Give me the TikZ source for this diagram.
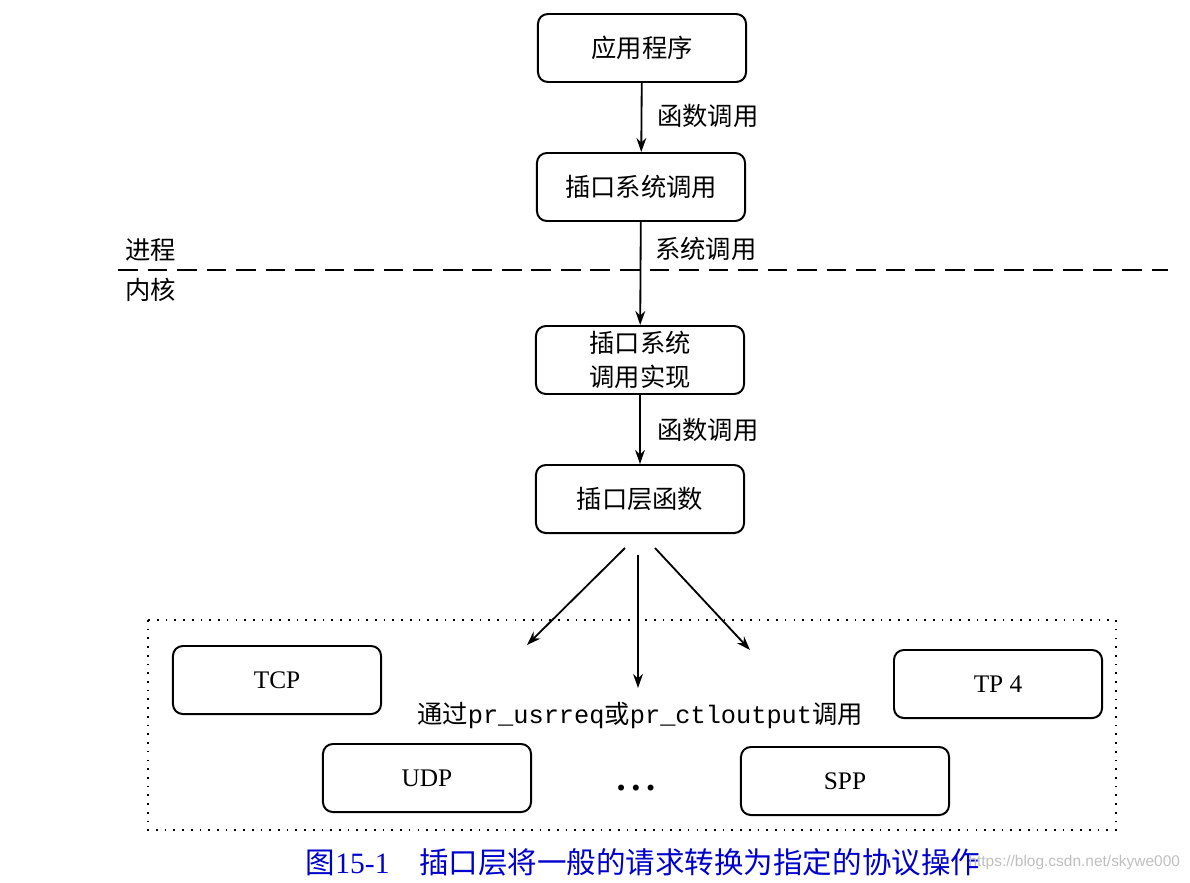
\documentclass[tikz,border=0pt]{standalone}
\usepackage{fontspec}
\setmainfont{Liberation Serif}
\setmonofont{Liberation Mono}
\newfontfamily\cjk{Noto Sans CJK SC}
\newfontfamily\wmfont{Liberation Sans}
\usetikzlibrary{arrows.meta}

\begin{document}
\begin{tikzpicture}[x=0.025cm,y=-0.025cm]
            \tikzstyle{box}=[draw,line width=1.4pt,rounded corners=7pt,minimum width=5.2cm,minimum height=1.7cm,font=\fontsize{18}{24}\selectfont\cjk,align=center];
            \tikzstyle{lbl}=[anchor=west,inner sep=0pt,font=\fontsize{18}{22}\selectfont\cjk];
            \tikzstyle{arr}=[line width=1.3pt,-{Stealth[length=10pt,width=7pt]}];
            \useasboundingbox (0,0) rectangle (1190,882);
            % top of the chain
            \node[box] (app) at (642,48) {应用程序};
            \node[box] (sockcall) at (641,187) {插口系统调用};
            \node[box] (sockimpl) at (640,360) {插口系统\\调用实现};
            \node[box] (socklayer) at (640,499) {插口层函数};
            \draw[arr] (app) -- (sockcall);
            \draw[arr] (sockcall) -- (sockimpl);
            \draw[arr] (sockimpl) -- (socklayer);
            \node[lbl] (call1) at (657,116) {函数调用};
            \node[lbl] (call2) at (655,249) {系统调用};
            \node[lbl] (call3) at (657,430) {函数调用};
            % process / kernel
            \draw[line width=1.2pt,dash pattern=on 14pt off 7pt] (118,270) -- (1168,270);
            \node[lbl] (proc) at (125,250) {进程};
            \node[lbl] (kern) at (125,290) {内核};
            % protocols
            \draw[line width=1.2pt,dash pattern=on 1.2pt off 5pt] (148,620) rectangle (1116,830);
            \tikzstyle{proto}=[box,font=\fontsize{18}{22}\selectfont];
            \node[proto] (tcp) at (277,680) {TCP};
            \node[proto] (tp4) at (998,684) {TP 4};
            \node[proto] (udp) at (427,778) {UDP};
            \node[proto] (spp) at (845,781) {SPP};
            \node[anchor=base,font=\fontsize{26}{26}\selectfont\bfseries] (more) at (636,790) {.\hspace{4pt}.\hspace{4pt}.};
            \node[font=\fontsize{18}{22}\selectfont] (via) at (640,716) {{\cjk 通过}\texttt{pr\_usrreq}{\cjk 或}\texttt{pr\_ctloutput}{\cjk 调用}};
            \coordinate (outl) at (625,548);
            \coordinate (outm) at (638,555);
            \coordinate (outr) at (655,548);
            \coordinate (inl) at (527,645);
            \coordinate (inm) at (638,688);
            \coordinate (inr) at (750,650);
            \draw[arr] (outl) -- (inl);
            \draw[arr] (outm) -- (inm);
            \draw[arr] (outr) -- (inr);
            % caption
            \node[text=blue!80!black,font=\fontsize{21}{24}\selectfont] (cap) at (643,862) {{\cjk 图}15-1\quad{\cjk 插口层将一般的请求转换为指定的协议操作}};
            \node[anchor=east,text=black!25,font=\fontsize{11}{13}\selectfont\wmfont] (wm) at (1185,862) {https://blog.csdn.net/skywe000};
        \end{tikzpicture}
\end{document}
